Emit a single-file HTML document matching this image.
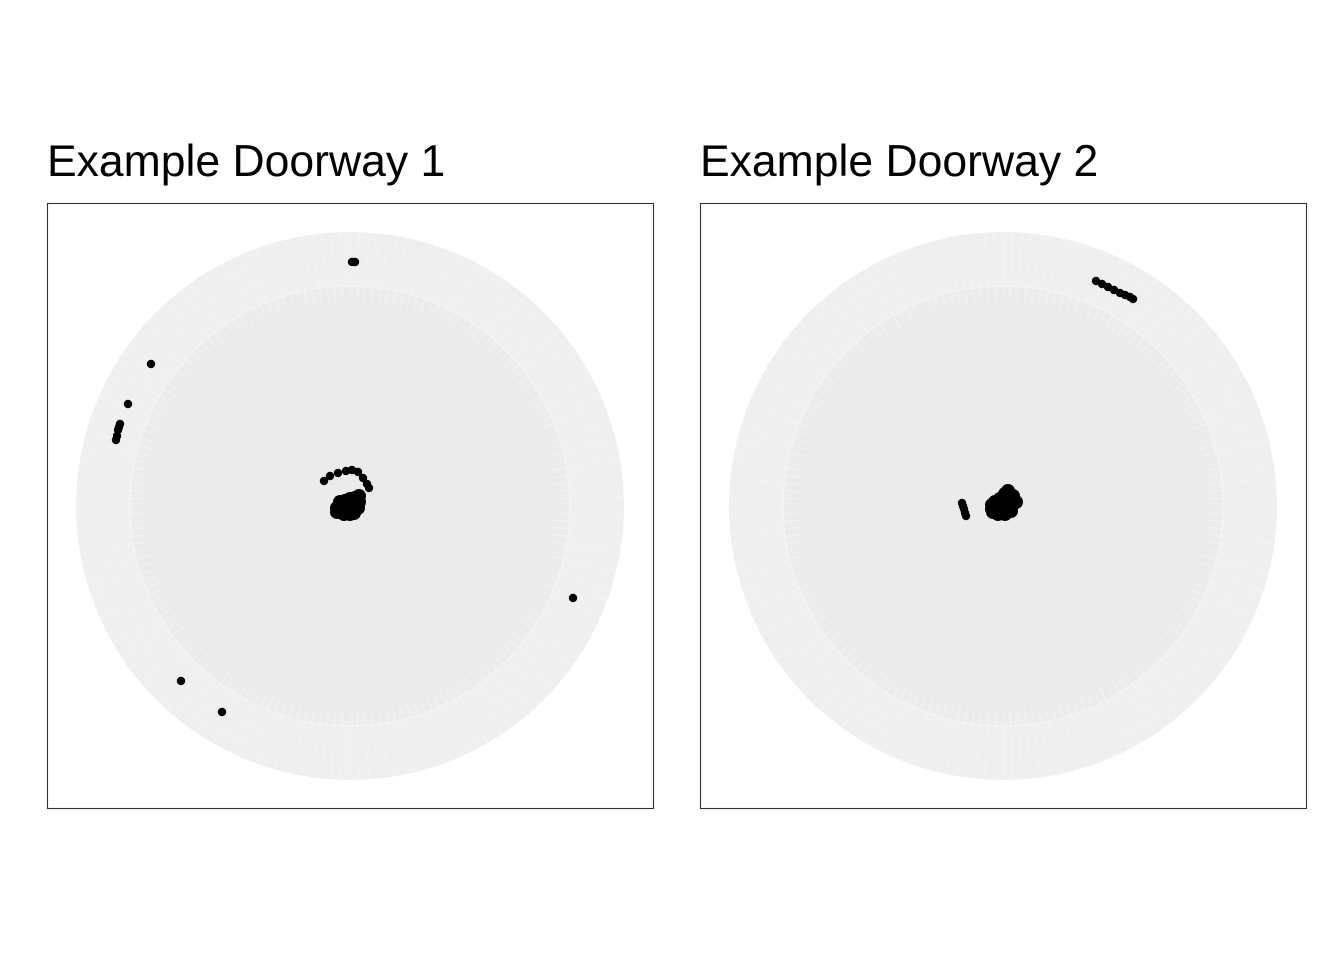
<!DOCTYPE html>
<html><head><meta charset="utf-8"><style>
html,body{margin:0;padding:0;background:#fff;}
svg{display:block;}
text{font-family:"Liberation Sans",Arial,sans-serif;}
</style></head><body>
<svg id="chart" width="1344" height="960" viewBox="0 0 1344 960">
<rect x="0" y="0" width="1344" height="960" fill="#fff"/>
<g id="p1">
<text x="47" y="176" font-size="44.5" fill="#000">Example Doorway 1</text>
</g>
<g id="p2">
<text x="700" y="176" font-size="44.5" fill="#000">Example Doorway 2</text>
</g>
</svg>
<script>
// point offsets from panel center in data units (1 unit = 100px)
const p1x = [-0.26,-0.20,-0.12,-0.04,0.02,0.08,0.13,0.17,0.19,
 0.02,0.05,-1.99,-2.22,-2.30,-2.31,-2.32,-2.33,-2.34,2.23,-1.69,-1.28];
const p1y = [-0.25,-0.30,-0.33,-0.35,-0.36,-0.34,-0.28,-0.22,-0.18,
 -2.44,-2.44,-1.42,-1.02,-0.82,-0.79,-0.76,-0.70,-0.66,0.92,1.75,2.06];
// dense cluster (blob) points
const b1x = [-0.13,-0.10,-0.05,0,0.05,0.09,0.09,0.08,0.04,0,-0.06,-0.13,-0.08,-0.02,0.03,0.05,-0.02,0.03,-0.12];
const b1y = [0.02,-0.04,-0.05,-0.07,-0.08,-0.10,-0.04,0.02,0.07,0.08,0.08,0.06,0.02,0,0.02,-0.03,0.05,0.05,0.04];
const p2x = [0.93,0.99,1.05,1.11,1.17,1.22,1.27,1.30,
 -0.41,-0.40,-0.39,-0.38,-0.37];
const p2y = [-2.25,-2.22,-2.19,-2.16,-2.13,-2.11,-2.09,-2.07,
 -0.03,0,0.03,0.07,0.10];
const b2x = [-0.11,-0.08,-0.03,0.02,0.05,0.10,0.13,0.08,0.02,-0.05,-0.10,0,-0.03,0.05,0.03,-0.11];
const b2y = [0.03,-0.04,-0.07,-0.12,-0.15,-0.10,-0.04,0.05,0.08,0.08,0.06,0,-0.01,-0.03,-0.08,-0.01];
const NS='http://www.w3.org/2000/svg';
const R=274;
function mk(tag,attrs,parent){const e=document.createElementNS(NS,tag);for(const k in attrs)e.setAttribute(k,attrs[k]);parent.appendChild(e);return e;}
function sx(cx,v){return cx+v*100;}
function sy(cy,v){return cy+v*100;}
function panel(g,x0,xs,ys,bx,by,idx){
  const cx=x0+303, cy=506;
  const bg=mk('circle',{cx:cx,cy:cy,r:R,fill:'#efefef'},g);
  
  
  const inner=mk('circle',{cx:cx,cy:cy,r:220,fill:'#ebebeb',stroke:'#f3f3f3','stroke-width':1.5},g);
  
  
  const lines=mk('g',{stroke:'#f6f6f6','stroke-width':0.6},g);
  
  
  for(let i=0;i<360;i+=2){const a=i*Math.PI/180;
    const l=mk('line',{x1:cx+Math.cos(a)*205,y1:cy+Math.sin(a)*205,x2:cx+Math.cos(a)*R,y2:cy+Math.sin(a)*R},lines);
    
    }
  const pts=mk('g',{fill:'#000'},g);
  
  
  for(let i=0;i<xs.length;i++){
    const c=mk('circle',{cx:sx(cx,xs[i]),cy:sy(cy,ys[i]),r:4.2},pts);
    
    
  }
  for(let i=0;i<bx.length;i++){
    const c=mk('circle',{cx:sx(cx,bx[i]),cy:sy(cy,by[i]),r:7},pts);
    
    
  }
  const fr=mk('rect',{x:x0+0.5,y:203.5,width:606,height:605,fill:'none',stroke:'#333','stroke-width':1.1},g);
  
  
}
panel(document.getElementById('p1'),47,p1x,p1y,b1x,b1y,1);
panel(document.getElementById('p2'),700,p2x,p2y,b2x,b2y,2);
</script>
</body></html>
